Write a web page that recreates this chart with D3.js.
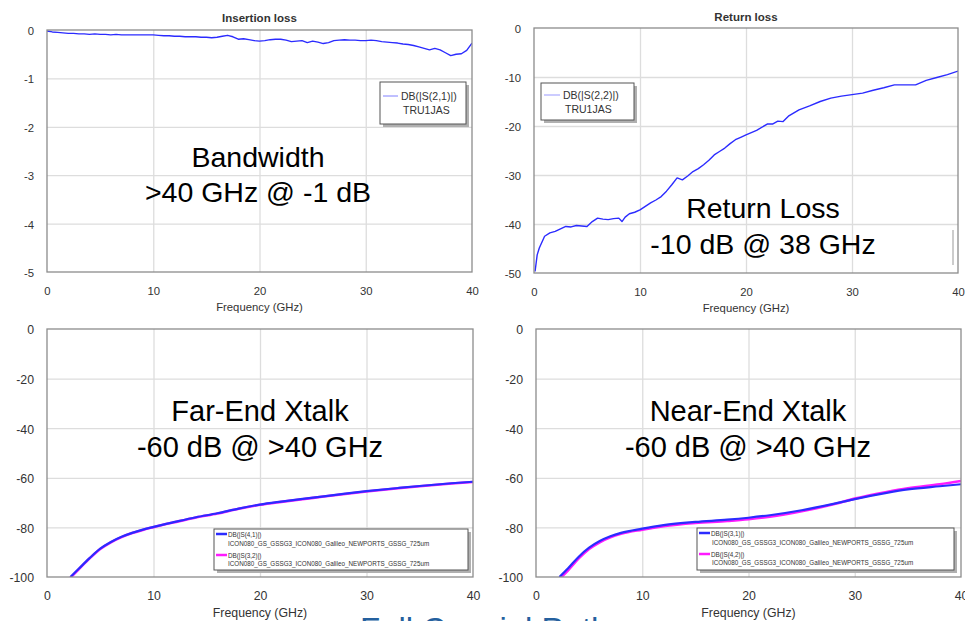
<!DOCTYPE html>
<html>
<head>
<meta charset="utf-8">
<script src="https://cdn.jsdelivr.net/npm/d3@7"></script>
<style>
  body { margin: 0; background: #fff; }
  svg { display: block; font-family: "Liberation Sans", Arial, sans-serif; }
</style>
</head>
<body>
<svg width="965" height="621"></svg>
<script>
// ---- data ----
const xTicks = [0, 10, 20, 30, 40];
const ilTicks = [0, -1, -2, -3, -4, -5];
const rlTicks = [0, -10, -20, -30, -40, -50];
const xtTicks = [0, -20, -40, -60, -80, -100];

// insertion loss, S(2,1), 0.5 GHz steps
const ilFreq = [0,0.5,1,1.5,2,2.5,3,3.5,4,4.5,5,5.5,6,6.5,7,7.5,8,8.5,9,9.5,
  10,10.5,11,11.5,12,12.5,13,13.5,14,14.5,15,15.5,16,16.5,17,17.5,18,18.5,19,19.5,
  20,20.5,21,21.5,22,22.5,23,23.5,24,24.5,25,25.5,26,26.5,27,27.5,28,28.5,29,29.5,
  30,30.5,31,31.5,32,32.5,33,33.5,34,34.5,35,35.5,36,36.5,37,37.5,38,38.5,39,39.5,40];
const ilS21 = [-0.02,-0.04,-0.05,-0.06,-0.07,-0.07,-0.08,-0.08,-0.09,-0.08,
  -0.09,-0.09,-0.10,-0.09,-0.10,-0.10,-0.10,-0.10,-0.10,-0.10,
  -0.10,-0.11,-0.12,-0.12,-0.13,-0.13,-0.14,-0.14,-0.14,-0.15,
  -0.15,-0.16,-0.15,-0.13,-0.11,-0.14,-0.19,-0.18,-0.20,-0.22,
  -0.23,-0.22,-0.20,-0.19,-0.19,-0.21,-0.24,-0.23,-0.22,-0.26,
  -0.23,-0.25,-0.28,-0.26,-0.22,-0.21,-0.20,-0.21,-0.21,-0.22,
  -0.22,-0.21,-0.22,-0.24,-0.25,-0.26,-0.27,-0.29,-0.30,-0.32,
  -0.35,-0.38,-0.41,-0.38,-0.41,-0.47,-0.53,-0.50,-0.49,-0.42,
  -0.27];

// return loss, S(2,2)
const rlFreq = [0.1,0.3,0.5,1,1.5,2,2.5,3,3.5,4,4.5,5,5.5,6,6.5,7,7.5,8,8.3,8.6,
  9,9.5,10,10.5,11,11.5,12,12.5,13,13.5,14,14.5,15,15.5,16,16.5,17,17.5,18,18.5,
  19,19.5,20,21,22,22.5,23,23.5,24,25,26,27,28,29,30,31,32,33,34,35,36,37,38,39,40];
const rlS22 = [-49.7,-46.3,-44.9,-42.5,-41.8,-41.5,-41.0,-40.5,-40.6,-40.3,
  -40.4,-40.5,-39.5,-38.8,-39.0,-39.1,-38.9,-38.8,-39.5,-38.6,
  -37.9,-37.6,-37.1,-36.4,-35.7,-35.1,-34.4,-33.3,-32.0,-30.6,
  -31.0,-30.2,-29.3,-28.7,-27.9,-27.0,-25.9,-25.2,-24.5,-23.6,
  -22.8,-22.3,-21.8,-20.9,-19.6,-19.6,-19.0,-19.1,-18.0,-16.7,
  -15.9,-15.0,-14.3,-13.9,-13.6,-13.3,-12.7,-12.2,-11.6,-11.6,
  -11.6,-10.7,-10.1,-9.5,-8.8];

// far-end crosstalk
const fextFreq = [2.2,3,4,5,6,7,8,9,10,12,14,16,18,20,22,25,28,30,33,35,38,40];
const fextS41 = [-100,-96.6,-92.4,-88.6,-85.9,-83.8,-82.2,-80.9,-79.8,-77.8,
  -75.9,-74.3,-72.4,-70.8,-69.6,-68.0,-66.4,-65.4,-64.1,-63.3,-62.2,-61.6];
const fextS32 = [-100.3,-96.8,-92.5,-88.7,-86.0,-83.9,-82.3,-81.0,-79.9,-77.9,
  -76.0,-74.4,-72.5,-70.9,-69.7,-68.1,-66.5,-65.5,-64.2,-63.4,-62.3,-61.7];

// near-end crosstalk
const nextFreq = [2.2,3,4,5,6,7,8,10,12,15,18,20,22,25,28,30,33,35,38,40];
const nextS31 = [-100,-96.6,-91.9,-88.2,-85.5,-83.6,-82.2,-80.5,-79.1,-77.8,
  -76.9,-76.1,-75.1,-73.1,-70.5,-68.6,-66.1,-64.7,-63.4,-62.6];
const nextS42 = [-100.8,-97.4,-92.6,-88.7,-86.0,-84.0,-82.6,-80.9,-79.5,-78.2,
  -77.4,-76.7,-75.7,-73.5,-70.7,-68.4,-65.7,-64.2,-62.6,-61.3];

const coaxName = "ICON080_GS_GSSG3_ICON080_Galileo_NEWPORTS_GSSG_725um";

const svg = d3.select("svg");

const panels = [
  {
    id: "il", left: 47, right: 472, top: 30, bottom: 272, yTicks: ilTicks, fs: 11.3,
    title: "Insertion loss", titleY: 22,
    series: [{ f: ilFreq, v: ilS21, color: "#2b2bff", width: 1.4, curve: d3.curveLinear }],
    note: ["Bandwidth", ">40 GHz @ -1 dB"], noteX: 258, noteY: [167, 202], noteFs: 28.5,
    legend: { x: 380, y: 82, w: 86, h: 42, fs: 10.5, big: false,
      items: [{ color: "#8080ff", lw: 1, lx: 383, lx2: 398, ly: 96,
        lines: [{ t: "DB(|S(2,1)|)", x: 401, y: 100 }, { t: "TRU1JAS", x: 403, y: 114 }] }] }
  },
  {
    id: "rl", left: 534, right: 958, top: 28, bottom: 273, yTicks: rlTicks, fs: 11.3,
    title: "Return loss", titleY: 21,
    series: [{ f: rlFreq, v: rlS22, color: "#2b2bff", width: 1.4, curve: d3.curveLinear }],
    note: ["Return Loss", "-10 dB @ 38 GHz"], noteX: 763, noteY: [218, 254], noteFs: 28.5,
    legend: { x: 541, y: 83, w: 93, h: 37, fs: 10.5, big: false,
      items: [{ color: "#9999ff", lw: 1, lx: 544, lx2: 560, ly: 95,
        lines: [{ t: "DB(|S(2,2)|)", x: 563, y: 99 }, { t: "TRU1JAS", x: 565, y: 113 }] }] }
  },
  {
    id: "fext", left: 47, right: 473, top: 329, bottom: 577, yTicks: xtTicks, fs: 12.3,
    xTitle: true,
    series: [
      { f: fextFreq, v: fextS32, color: "#ff1aff", width: 2.6, curve: d3.curveMonotoneX },
      { f: fextFreq, v: fextS41, color: "#2b2bff", width: 2.2, curve: d3.curveMonotoneX }
    ],
    note: ["Far-End Xtalk", "-60 dB @ >40 GHz"], noteX: 260, noteY: [421, 457], noteFs: 29,
    legend: { x: 214, y: 529, w: 254, h: 41, fs: 6.3, big: true,
      items: [
        { color: "#2b2bff", lw: 2.5, lx: 216, lx2: 227, ly: 534,
          lines: [{ t: "DB(|S(4,1)|)", x: 228, y: 536.5 }, { t: coaxName, x: 228, y: 545.5 }] },
        { color: "#ff1aff", lw: 2.5, lx: 216, lx2: 227, ly: 555,
          lines: [{ t: "DB(|S(3,2)|)", x: 228, y: 557.5 }, { t: coaxName, x: 228, y: 566 }] }
      ] }
  },
  {
    id: "next", left: 536, right: 961, top: 329, bottom: 577, yTicks: xtTicks, fs: 12.3,
    xTitle: true,
    series: [
      { f: nextFreq, v: nextS42, color: "#ff1aff", width: 2.6, curve: d3.curveMonotoneX },
      { f: nextFreq, v: nextS31, color: "#2b2bff", width: 2.2, curve: d3.curveMonotoneX }
    ],
    note: ["Near-End Xtalk", "-60 dB @ >40 GHz"], noteX: 748, noteY: [421, 457], noteFs: 29,
    legend: { x: 697, y: 528, w: 257, h: 42, fs: 6.3, big: true,
      items: [
        { color: "#2b2bff", lw: 2.5, lx: 699, lx2: 710, ly: 533,
          lines: [{ t: "DB(|S(3,1)|)", x: 711, y: 535.5 }, { t: coaxName, x: 712, y: 544.5 }] },
        { color: "#ff1aff", lw: 2.5, lx: 699, lx2: 710, ly: 554,
          lines: [{ t: "DB(|S(4,2)|)", x: 711, y: 556.5 }, { t: coaxName, x: 712, y: 565 }] }
      ] }
  }
];

function drawPanel(p) {
  const w = p.right - p.left, h = p.bottom - p.top;
  const x = d3.scaleLinear().domain([0, 40]).range([p.left, p.right]);
  const y = d3.scaleLinear().domain([p.yTicks[p.yTicks.length - 1], 0]).range([p.bottom, p.top]);
  const g = svg.append("g");

  g.append("clipPath").attr("id", "clip-" + p.id)
    .append("rect").attr("x", p.left).attr("y", p.top).attr("width", w).attr("height", h);

  // grid lines
  g.append("g")
    .attr("transform", `translate(0,${p.bottom})`)
    .call(d3.axisBottom(x).tickValues(xTicks.slice(1, -1)).tickSize(-h).tickFormat(""))
    .call(a => a.select(".domain").remove())
    .selectAll("line").attr("stroke", "#dddddd").attr("stroke-width", 1.3);
  g.append("g")
    .attr("transform", `translate(${p.left},0)`)
    .call(d3.axisLeft(y).tickValues(p.yTicks.slice(1, -1)).tickSize(-w).tickFormat(""))
    .call(a => a.select(".domain").remove())
    .selectAll("line").attr("stroke", "#dddddd").attr("stroke-width", 1.3);

  // tick labels
  const xa = g.append("g")
    .attr("transform", `translate(0,${p.bottom})`)
    .call(d3.axisBottom(x).tickValues(xTicks).tickSize(0).tickFormat(d => String(d)))
    .attr("font-family", null).attr("font-size", null);
  xa.select(".domain").remove();
  xa.selectAll("text").attr("y", 23).attr("dy", null)
    .attr("font-size", p.fs).attr("fill", "#333");

  const ya = g.append("g")
    .attr("transform", `translate(${p.left},0)`)
    .call(d3.axisLeft(y).tickValues(p.yTicks).tickSize(0).tickPadding(13).tickFormat(d => String(d)))
    .attr("font-family", null).attr("font-size", null);
  ya.select(".domain").remove();
  ya.selectAll("text").attr("dy", "0.4em").attr("font-size", p.fs).attr("fill", "#333");

  // series
  p.series.forEach(s => {
    const line = d3.line().x(d => x(d[0])).y(d => y(d[1])).curve(s.curve);
    g.append("path")
      .datum(d3.zip(s.f, s.v))
      .attr("clip-path", `url(#clip-${p.id})`)
      .attr("fill", "none")
      .attr("stroke", s.color)
      .attr("stroke-width", s.width)
      .attr("stroke-linejoin", "round")
      .attr("d", line);
  });

  // frame
  g.append("rect")
    .attr("x", p.left).attr("y", p.top).attr("width", w).attr("height", h)
    .attr("fill", "none").attr("stroke", "#8c8c8c").attr("stroke-width", 1.3);

  if (p.title) {
    g.append("text").attr("x", (p.left + p.right) / 2).attr("y", p.titleY)
      .attr("text-anchor", "middle").attr("font-weight", "bold")
      .attr("font-size", 11.5).attr("fill", "#333").text(p.title);
  }
  g.append("text").attr("x", (p.left + p.right) / 2).attr("y", p.bottom + (p.xTitle ? 40 : 39))
    .attr("text-anchor", "middle").attr("font-size", p.fs).attr("fill", "#333")
    .text("Frequency (GHz)");

  // legend box with drop shadow
  const L = p.legend;
  g.append("rect").attr("x", L.x + 3).attr("y", L.y + 3).attr("width", L.w).attr("height", L.h)
    .attr("fill", "#b0b0b0");
  g.append("rect").attr("x", L.x).attr("y", L.y).attr("width", L.w).attr("height", L.h)
    .attr("fill", "#fff").attr("stroke", "#555").attr("stroke-width", 1);
  L.items.forEach(it => {
    g.append("line").attr("x1", it.lx).attr("x2", it.lx2).attr("y1", it.ly).attr("y2", it.ly)
      .attr("stroke", it.color).attr("stroke-width", it.lw);
    it.lines.forEach(t => {
      g.append("text").attr("x", t.x).attr("y", t.y)
        .attr("font-size", L.fs).attr("fill", "#333").text(t.t);
    });
  });

  // big annotation
  p.note.forEach((t, i) => {
    g.append("text").attr("x", p.noteX).attr("y", p.noteY[i])
      .attr("text-anchor", "middle").attr("font-size", p.noteFs).attr("fill", "#000").text(t);
  });
}

panels.forEach(drawPanel);

// stray text cursor in the return-loss plot
svg.append("line").attr("x1", 953).attr("x2", 953).attr("y1", 230).attr("y2", 265)
  .attr("stroke", "#999").attr("stroke-width", 1);

// slide caption, cut off at the bottom
svg.append("text").attr("x", 360).attr("y", 641)
  .attr("font-size", 33).attr("fill", "#24609e").text("Full Coaxial Path");
</script>
</body>
</html>
